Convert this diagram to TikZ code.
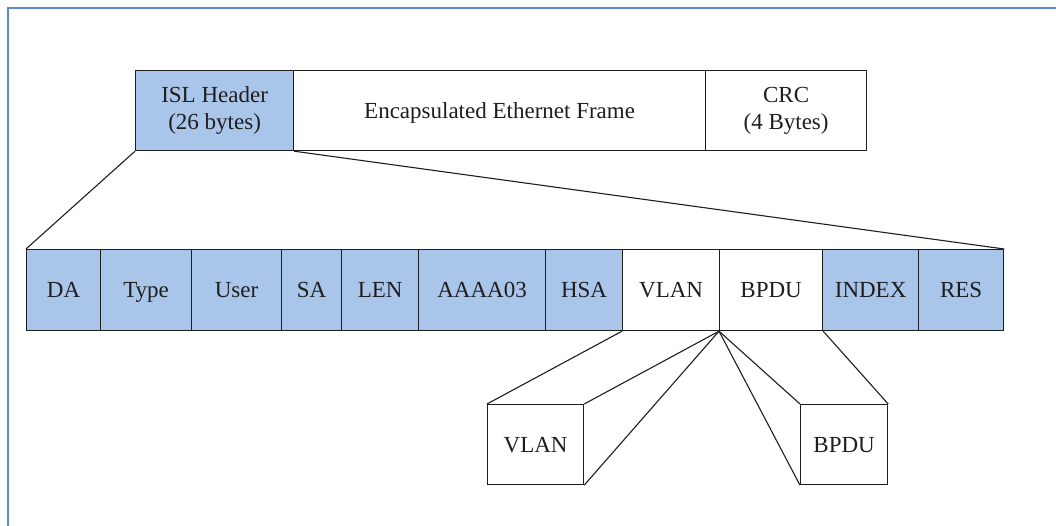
\documentclass[tikz,border=0pt]{standalone}
\usepackage{fontspec}
\setmainfont{Liberation Serif}
\newfontfamily\figfont{Liberation Serif}
\definecolor{fieldblue}{HTML}{A9C5EA}
\definecolor{frameblue}{HTML}{5B8CD2}
\definecolor{inkgray}{HTML}{1E1E1E}
\begin{document}
\begin{tikzpicture}[x=1pt,y=-1pt,
  field/.style={draw=inkgray, line width=1.2pt, inner sep=0pt, text=inkgray,
    font=\figfont\fontsize{23}{27}\selectfont, align=center, anchor=north west},
  oneline/.style={text height=17pt, text depth=2pt},
  bluefield/.style={field, oneline, fill=fieldblue},
  whitefield/.style={field, oneline, fill=white},
  twoline/.style={field},
  link/.style={draw=inkgray, line width=1.1pt}]
\useasboundingbox (0,0) rectangle (1056,526);
\draw[frameblue, line width=2.2pt] (8,526) -- (8,8) -- (1056,8);

% top row
\node[twoline, fill=fieldblue, minimum width=158pt, minimum height=80pt] (isl) at (135,70) {ISL Header\\(26 bytes)};
\node[whitefield, minimum width=412pt, minimum height=80pt] (enc) at (293,70) {Encapsulated Ethernet Frame};
\node[twoline, fill=white, minimum width=161pt, minimum height=80pt] (crc) at (705,70) {CRC\\(4 Bytes)};

% second row
\node[bluefield, minimum width=74pt, minimum height=81pt] (da) at (26,249) {DA};
\node[bluefield, minimum width=91pt, minimum height=81pt] (type) at (100,249) {Type};
\node[bluefield, minimum width=90pt, minimum height=81pt] (user) at (191,249) {User};
\node[bluefield, minimum width=60pt, minimum height=81pt] (sa) at (281,249) {SA};
\node[bluefield, minimum width=77pt, minimum height=81pt] (len) at (341,249) {LEN};
\node[bluefield, minimum width=127pt, minimum height=81pt] (aaaa) at (418,249) {AAAA03};
\node[bluefield, minimum width=77pt, minimum height=81pt] (hsa) at (545,249) {HSA};
\node[whitefield, minimum width=97pt, minimum height=81pt] (vlan) at (622,249) {VLAN};
\node[whitefield, minimum width=103pt, minimum height=81pt] (bpdu) at (719,249) {BPDU};
\node[bluefield, minimum width=96pt, minimum height=81pt] (index) at (822,249) {INDEX};
\node[bluefield, minimum width=85pt, minimum height=81pt] (res) at (918,249) {RES};

% bottom boxes
\node[whitefield, minimum width=96pt, minimum height=80pt] (vlanx) at (487,404) {VLAN};
\node[whitefield, minimum width=87pt, minimum height=80pt] (bpdux) at (800,404) {BPDU};

% connectors
\draw[link] (isl.south west) -- (da.north west);
\draw[link] (isl.south east) -- (res.north east);
\draw[link] (vlan.south west) -- (vlanx.north west);
\draw[link] (bpdu.south west) -- (vlanx.north east);
\draw[link] (bpdu.south west) -- (vlanx.south east);
\draw[link] (bpdu.south west) -- (bpdux.north west);
\draw[link] (bpdu.south west) -- (bpdux.south west);
\draw[link] (bpdu.south east) -- (bpdux.north east);
\end{tikzpicture}
\end{document}
